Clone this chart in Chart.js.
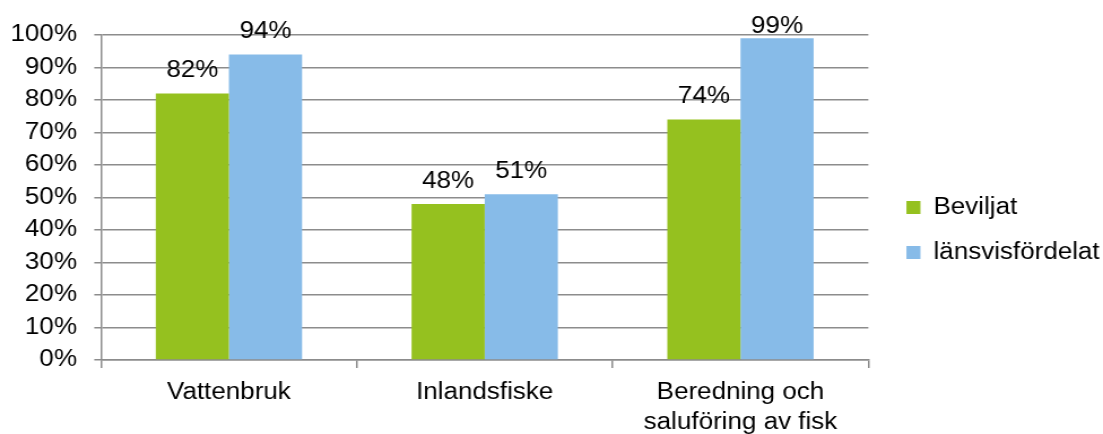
<!DOCTYPE html>
<html>
<head>
<meta charset="utf-8">
<script src="https://cdn.jsdelivr.net/npm/chart.js@4/dist/chart.umd.min.js"></script>
<style>
  html, body { margin: 0; padding: 0; background: #fff; overflow: hidden; }
  #chart { display: block; }
</style>
</head>
<body>
<!-- the original picture is stretched sideways a little, so the canvas is too -->
<canvas id="chart" width="976" height="434" style="width:1103px;height:434px"></canvas>
<script>
const categories = ['Vattenbruk', 'Inlandsfiske', ['Beredning och', 'saluföring av fisk']]
const seriesNames = ['Beviljat', 'länsvisfördelat']
const beviljat = [82, 48, 74]
const lansvisfordelat = [94, 51, 99]
const yTickLabels = ['0%', '10%', '20%', '30%', '40%', '50%', '60%', '70%', '80%', '90%', '100%']

const FONT = '"Liberation Sans", Arial, sans-serif'
const GREEN = '#95c11f'
const BLUE = '#87bbe8'
const GRID = '#8c8c8c'

// percentage labels above each bar, kept inside the top of the picture like Excel does
const valueLabels = {
    id: 'valueLabels',
    afterDatasetsDraw(chart) {
        const ctx = chart.ctx
        ctx.save()
        ctx.font = '23px ' + FONT
        ctx.fillStyle = '#000'
        ctx.textAlign = 'center'
        ctx.textBaseline = 'alphabetic'
        chart.data.datasets.forEach((ds, i) => {
            chart.getDatasetMeta(i).data.forEach((bar, j) => {
                const y = Math.max(bar.y - 16.5, 33)
                ctx.fillText(ds.data[j] + '%', bar.x, y)
            })
        })
        ctx.restore()
    }
}

// push the legend a bit to the right of the plot and a little up
const legendNudge = {
    id: 'legendNudge',
    afterLayout(chart) {
        const l = chart.legend
        l.left += 11.7
        l.right += 11.7
        l.top -= 4.5
        l.bottom -= 4.5
    }
}

new Chart(document.getElementById('chart'), {
    type: 'bar',
    data: {
        labels: categories,
        datasets: [{
            label: seriesNames[0],
            data: beviljat,
            backgroundColor: GREEN,
            categoryPercentage: 0.572,
            barPercentage: 1,
        }, {
            label: seriesNames[1],
            data: lansvisfordelat,
            backgroundColor: BLUE,
            categoryPercentage: 0.572,
            barPercentage: 1,
        }]
    },
    options: {
        responsive: false,
        animation: false,
        layout: { padding: { top: 35, left: 0, right: 4.7, bottom: 0 } },
        plugins: {
            tooltip: { enabled: false },
            legend: {
                position: 'right',
                labels: {
                    boxWidth: 12.4,
                    boxHeight: 13,
                    padding: 22,
                    color: '#000',
                    font: { family: FONT, size: 23 },
                }
            }
        },
        scales: {
            x: {
                grid: { offset: true, drawOnChartArea: false, drawTicks: true, tickLength: 8, color: GRID, lineWidth: 1.5 },
                border: { color: GRID, width: 1.5 },
                ticks: {
                    color: '#000',
                    font: { family: FONT, size: 23, lineHeight: 1.3 },
                    maxRotation: 0,
                    autoSkip: false,
                    padding: 10,
                },
                afterFit(s) { s.height = 74 }
            },
            y: {
                min: 0,
                max: 100,
                grid: { color: GRID, lineWidth: 1.5, tickLength: 6 },
                border: { color: GRID, width: 1.5 },
                ticks: {
                    stepSize: 10,
                    color: '#000',
                    font: { family: FONT, size: 23 },
                    padding: 15.3,
                    callback: (v, i) => yTickLabels[i],
                },
                afterFit(s) { s.width = 89.4 }
            }
        }
    },
    plugins: [valueLabels, legendNudge]
})
</script>
</body>
</html>
